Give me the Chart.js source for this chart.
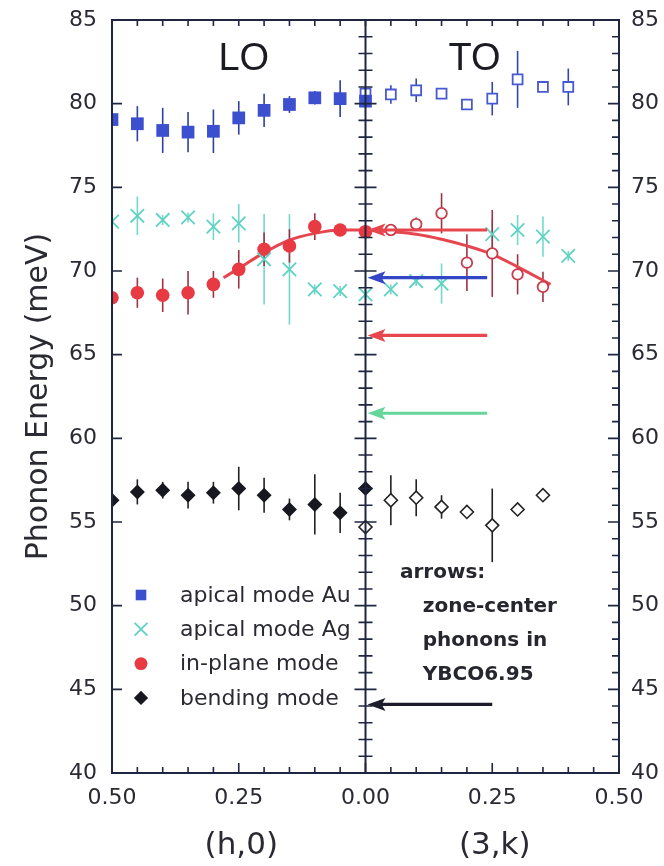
<!DOCTYPE html>
<html>
<head>
<meta charset="utf-8">
<script src="https://cdn.jsdelivr.net/npm/chart.js@4.4.0/dist/chart.umd.min.js"></script>
<style>
  html, body { margin: 0; padding: 0; background: #fff; }
  #wrap { width: 664px; height: 866px; }
</style>
</head>
<body>
<div id="wrap"><canvas id="phonon-chart"></canvas></div>
<script>
// wave vectors: LO branch along (h,0) drawn to the left, TO branch along (3,k) to the right
const hLO = [0.50, 0.45, 0.40, 0.35, 0.30, 0.25, 0.20, 0.15, 0.10, 0.05, 0.00];

const auLO    = [79.05, 78.8, 78.4, 78.3, 78.35, 79.15, 79.6, 79.95, 80.35, 80.3, 80.15];
const auLOErr = [0.5, 1.05, 1.35, 1.2, 1.3, 1.0, 1.0, 0.5, 0.4, 1.1, 0.4];
const agLO    = [72.95, 73.3, 73.05, 73.2, 72.65, 72.85, 70.7, 70.1, 68.9, 68.8, 68.6];
const agLOErr = [0.3, 1.15, 0.3, 0.3, 0.8, 1.15, 2.7, 3.3, 0.3, 0.3, 0.3];
const ipLO    = [68.4, 68.7, 68.55, 68.7, 69.2, 70.1, 71.3, 71.5, 72.65, 72.45, 72.35];
const ipLOErr = [0.4, 0.9, 1.0, 1.3, 0.8, 1.15, 1.0, 1.0, 0.8, 0.3, 0.3];
const bdLO    = [56.3, 56.8, 56.9, 56.6, 56.75, 57.0, 56.6, 55.75, 56.05, 55.55, 57.0];
const bdLOErr = [0.4, 0.75, 0.5, 0.8, 0.65, 1.3, 1.05, 0.65, 1.8, 1.2, 0.3];

const kAu     = [0.00, 0.05, 0.10, 0.15, 0.20, 0.25, 0.30, 0.35, 0.40];
const auTO    = [80.6, 80.55, 80.8, 80.6, 79.95, 80.3, 81.45, 81.0, 81.0];
const auTOErr = [0.3, 0.55, 0.7, 0.2, 0.2, 1.0, 1.7, 0.3, 1.1];
const kAg     = [0.05, 0.10, 0.15, 0.25, 0.30, 0.35, 0.40];
const agTO    = [68.9, 69.4, 69.25, 72.2, 72.45, 72.05, 70.9];
const agTOErr = [0.3, 0.3, 1.2, 0.9, 0.9, 1.2, 0.3];
const kIp     = [0.05, 0.10, 0.15, 0.20, 0.25, 0.30, 0.35];
const ipTO    = [72.45, 72.8, 73.45, 70.5, 71.05, 69.8, 69.05];
const ipTOErr = [0.3, 0.4, 1.2, 1.7, 2.6, 1.2, 0.9];
const kBd     = [0.00, 0.05, 0.10, 0.15, 0.20, 0.25, 0.30, 0.35];
const bdTO    = [54.7, 56.3, 56.45, 55.9, 55.6, 54.8, 55.75, 56.6];
const bdTOErr = [0.3, 1.5, 1.1, 0.7, 0.2, 2.2, 0.2, 0.2];

// fitted in-plane dispersion
const fitLOh = [0.28, 0.25, 0.20, 0.15, 0.10, 0.05, 0.00];
const fitLO  = [69.6, 70.15, 71.1, 71.85, 72.25, 72.45, 72.45];
const fitTOk = [0.00, 0.05, 0.10, 0.15, 0.20, 0.25, 0.30, 0.365];
const fitTO  = [72.45, 72.35, 72.2, 71.9, 71.5, 71.0, 70.25, 69.2];

// zone-center phonons (arrows)
const arrowEnergy = [72.45, 69.6, 66.15, 61.5, 44.1];
const arrowTail   = [0.24, 0.24, 0.24, 0.24, 0.25];

const xTickValues = [-0.5, -0.25, 0, 0.25, 0.5];
const xTickLabels = ['0.50', '0.25', '0.00', '0.25', '0.50'];
const yTickValues = [40, 45, 50, 55, 60, 65, 70, 75, 80, 85];
const branchLabels = ['LO', 'TO'];
const axisLabels = ['(h,0)', '(3,k)'];
const noteLines = ['arrows:', 'zone-center', 'phonons in', 'YBCO6.95'];

function pts(xs, ys, sign) {
  return xs.map((x, i) => ({ x: sign * x, y: ys[i] }));
}

const BLUE = '#3b4fcf', CYAN = '#5fd3c3', RED = '#e83a43', BLACK = '#17171f';
const AXIS = '#1f2640', TEXT = '#2a2a33';
const FONT = 'DejaVu Sans';

const datasets = [
  { label: 'apical mode Au', data: pts(hLO, auLO, -1), errors: auLOErr, errorColor: '#2e3f9f',
    pointStyle: 'rect', pointRadius: 9, backgroundColor: BLUE, borderColor: BLUE, borderWidth: 0, legend: true },
  { label: 'apical Au TO', data: pts(kAu, auTO, 1), errors: auTOErr, errorColor: '#3346b0',
    pointStyle: 'rect', pointRadius: 7, backgroundColor: '#fff', borderColor: '#4659d2', borderWidth: 1.8 },
  { label: 'apical mode Ag', data: pts(hLO, agLO, -1), errors: agLOErr, errorColor: '#72d8cb',
    pointStyle: 'crossRot', pointRadius: 9.5, backgroundColor: CYAN, borderColor: CYAN, borderWidth: 1.8, legend: true },
  { label: 'apical Ag TO', data: pts(kAg, agTO, 1), errors: agTOErr, errorColor: '#72d8cb',
    pointStyle: 'crossRot', pointRadius: 9.5, backgroundColor: CYAN, borderColor: CYAN, borderWidth: 1.8 },
  { label: 'in-plane mode', data: pts(hLO, ipLO, -1), errors: ipLOErr, errorColor: '#9a3444',
    pointStyle: 'circle', pointRadius: 6.8, backgroundColor: RED, borderColor: RED, borderWidth: 0, legend: true },
  { label: 'in-plane TO', data: pts(kIp, ipTO, 1), errors: ipTOErr, errorColor: '#9a3444',
    pointStyle: 'circle', pointRadius: 5.3, backgroundColor: '#fff', borderColor: '#c83c4c', borderWidth: 1.8 },
  { label: 'bending mode', data: pts(hLO, bdLO, -1), errors: bdLOErr, errorColor: '#222',
    pointStyle: 'rectRot', pointRadius: 7.5, backgroundColor: BLACK, borderColor: BLACK, borderWidth: 0, legend: true },
  { label: 'bending TO', data: pts(kBd, bdTO, 1), errors: bdTOErr, errorColor: '#222',
    pointStyle: 'rectRot', pointRadius: 6.5, backgroundColor: '#fff', borderColor: '#222', borderWidth: 1.6 },
  { label: 'fit LO', data: pts(fitLOh, fitLO, -1), showLine: true, pointRadius: 0, borderColor: '#e6464f',
    borderWidth: 3, tension: 0.4, cubicInterpolationMode: 'monotone', order: 1 },
  { label: 'fit TO', data: pts(fitTOk, fitTO, 1), showLine: true, pointRadius: 0, borderColor: '#e6464f',
    borderWidth: 3, tension: 0.4, cubicInterpolationMode: 'monotone', order: 1 }
];
datasets.forEach(d => { d.clip = 0; if (d.order === undefined) d.order = 0; });

const errorBars = {
  id: 'errorBars',
  beforeDatasetsDraw(chart) {
    const ctx = chart.ctx, ys = chart.scales.y, a = chart.chartArea;
    ctx.save();
    ctx.beginPath(); ctx.rect(a.left, a.top, a.right - a.left, a.bottom - a.top); ctx.clip();
    chart.data.datasets.forEach((ds, i) => {
      if (!ds.errors) return;
      const meta = chart.getDatasetMeta(i);
      ctx.strokeStyle = ds.errorColor;
      ctx.lineWidth = 1.6;
      meta.data.forEach((pt, j) => {
        const e = ds.errors[j], v = ds.data[j].y;
        ctx.beginPath();
        ctx.moveTo(pt.x, ys.getPixelForValue(v - e));
        ctx.lineTo(pt.x, ys.getPixelForValue(v + e));
        ctx.stroke();
      });
    });
    ctx.restore();
  }
};

const frame = {
  id: 'frame',
  afterDatasetsDraw(chart) {
    const ctx = chart.ctx, a = chart.chartArea, xs = chart.scales.x, ys = chart.scales.y;
    const cx = xs.getPixelForValue(0);
    ctx.save();
    ctx.strokeStyle = AXIS;
    ctx.lineWidth = 2;
    ctx.strokeRect(a.left, a.top, a.right - a.left, a.bottom - a.top);
    ctx.beginPath(); ctx.moveTo(cx, a.top); ctx.lineTo(cx, a.bottom); ctx.stroke();
    ctx.lineWidth = 1.6;
    for (let v = 40; v <= 85; v++) {
      const py = ys.getPixelForValue(v), major = v % 5 === 0;
      ctx.beginPath();
      // center axis: ticks both sides
      ctx.moveTo(cx - (major ? 11 : 7), py); ctx.lineTo(cx + (major ? 11 : 7), py);
      // right axis: inward ticks
      ctx.moveTo(a.right, py); ctx.lineTo(a.right - (major ? 11 : 7), py);
      if (major) { ctx.moveTo(a.left, py); ctx.lineTo(a.left + 10, py); }
      ctx.stroke();
    }
    for (let i = -10; i <= 10; i++) {
      const px = xs.getPixelForValue(i * 0.05), major = i % 5 === 0;
      ctx.beginPath();
      ctx.moveTo(px, a.bottom); ctx.lineTo(px, a.bottom - (major ? 10 : 6));
      ctx.moveTo(px, a.top); ctx.lineTo(px, a.top + 6);
      ctx.stroke();
    }
    ctx.restore();
  }
};

const arrows = {
  id: 'arrows',
  afterDatasetsDraw(chart) {
    const ctx = chart.ctx, xs = chart.scales.x, ys = chart.scales.y;
    const colors = ['#e8464e', '#3346c6', '#e8464e', '#66d59a', '#1c1c2c'];
    const tip = xs.getPixelForValue(0.004);
    ctx.save();
    arrowEnergy.forEach((e, i) => {
      const py = ys.getPixelForValue(e), tail = xs.getPixelForValue(arrowTail[i]);
      ctx.strokeStyle = colors[i]; ctx.fillStyle = colors[i];
      ctx.lineWidth = 3.2;
      ctx.beginPath(); ctx.moveTo(tail, py); ctx.lineTo(tip + 12, py); ctx.stroke();
      ctx.beginPath();
      ctx.moveTo(tip, py); ctx.lineTo(tip + 18, py - 6.5); ctx.lineTo(tip + 14, py); ctx.lineTo(tip + 18, py + 6.5);
      ctx.closePath(); ctx.fill();
    });
    ctx.restore();
  }
};

const labels = {
  id: 'labels',
  afterDraw(chart) {
    const ctx = chart.ctx, a = chart.chartArea, xs = chart.scales.x, ys = chart.scales.y;
    ctx.save();
    ctx.fillStyle = '#1b1b22';
    ctx.textAlign = 'center'; ctx.textBaseline = 'alphabetic';
    ctx.font = '38px "Liberation Sans"';
    ctx.fillText(branchLabels[0], xs.getPixelForValue(-0.24), ys.getPixelForValue(82.0));
    ctx.fillText(branchLabels[1], xs.getPixelForValue(0.215), ys.getPixelForValue(82.0));

    ctx.fillStyle = TEXT;
    ctx.textBaseline = 'middle';
    ctx.font = `31px "${FONT}"`;
    ctx.fillText(axisLabels[0], xs.getPixelForValue(-0.245), a.bottom + 73);
    ctx.fillText(axisLabels[1], xs.getPixelForValue(0.255), a.bottom + 73);

    // note about the arrows
    ctx.textAlign = 'left';
    ctx.font = `bold 20px "${FONT}"`;
    ctx.fillStyle = '#26262e';
    noteLines.forEach((t, i) => {
      const px = xs.getPixelForValue(i === 0 ? 0.068 : 0.113);
      ctx.fillText(t, px, 573 + i * 33.8);
    });

    // legend
    const rows = chart.data.datasets.filter(d => d.legend);
    ctx.font = `22px "${FONT}"`;
    rows.forEach((d, i) => {
      const py = 595 + i * 34.3, px = a.left + 29;
      ctx.fillStyle = d.backgroundColor; ctx.strokeStyle = d.borderColor;
      ctx.lineWidth = d.borderWidth;
      Chart.helpers.drawPoint(ctx, {
        pointStyle: d.pointStyle, radius: d.pointStyle === 'rect' ? 7.5 : d.pointRadius * 0.95,
        rotation: 0, borderWidth: d.borderWidth
      }, px, py);
      ctx.fillStyle = TEXT;
      ctx.fillText(d.label, a.left + 68, py + 1);
    });
    ctx.restore();
  }
};

const tickFont = { family: FONT, size: 22 };
function noVPad(s, w) { s.width = w; s.paddingTop = 0; s.paddingBottom = 0; }

new Chart(document.getElementById('phonon-chart').getContext('2d'), {
  type: 'scatter',
  data: { datasets: datasets },
  options: {
    responsive: true,
    maintainAspectRatio: false,
    animation: false,
    layout: { padding: { top: 20, left: 0, right: 0, bottom: 0 } },
    plugins: { legend: { display: false }, tooltip: { enabled: false } },
    scales: {
      x: {
        type: 'linear', position: 'bottom', min: -0.5, max: 0.5,
        afterFit(s) { s.height = 93; },
        afterBuildTicks(s) { s.ticks = xTickValues.map(v => ({ value: v })); },
        ticks: { callback: (v, i) => xTickLabels[i], font: tickFont, color: TEXT, padding: 12, autoSkip: false, maxRotation: 0 },
        grid: { display: false, drawTicks: false },
        border: { display: false }
      },
      y: {
        type: 'linear', position: 'left', min: 40, max: 85,
        afterFit(s) { noVPad(s, 112); },
        afterBuildTicks(s) { s.ticks = yTickValues.map(v => ({ value: v })); },
        ticks: { font: tickFont, color: TEXT, padding: 15 },
        grid: { display: false, drawTicks: false },
        border: { display: false },
        title: { display: true, text: 'Phonon Energy (meV)', color: TEXT, font: { family: FONT, size: 30 }, padding: { top: 21, bottom: 0 } }
      },
      y2: {
        type: 'linear', position: 'right', min: 40, max: 85,
        afterFit(s) { noVPad(s, 45); },
        afterBuildTicks(s) { s.ticks = yTickValues.map(v => ({ value: v })); },
        ticks: { font: tickFont, color: TEXT, padding: 12 },
        grid: { display: false, drawTicks: false },
        border: { display: false }
      }
    }
  },
  plugins: [errorBars, frame, arrows, labels]
});
</script>
</body>
</html>
